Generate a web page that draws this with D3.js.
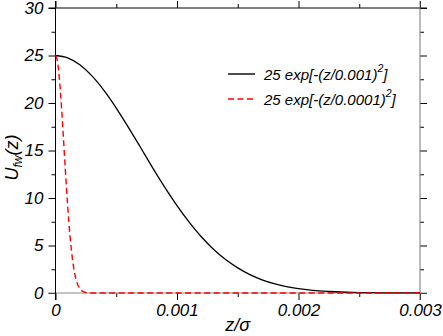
<!DOCTYPE html>
<html>
<head>
<meta charset="utf-8">
<script src="https://cdn.jsdelivr.net/npm/d3@7"></script>
<style>
  body { margin: 0; background: #fff; }
  text { font-family: "Liberation Sans", Arial, sans-serif; font-style: italic; }
</style>
</head>
<body>
<svg width="443" height="336"></svg>
<script>
// values
var xTicks = [0, 0.001, 0.002, 0.003];
var yTicks = [0, 5, 10, 15, 20, 25, 30];
var labels = ["25 exp[-(z/0.001)", "25 exp[-(z/0.0001)"];

var wideZ = [0, 0.0001, 0.0002, 0.0003, 0.0004, 0.0005, 0.0006, 0.0007, 0.0008, 0.0009,
  0.001, 0.0011, 0.0012, 0.0013, 0.0014, 0.0015, 0.0016, 0.0017, 0.0018, 0.0019,
  0.002, 0.0021, 0.0022, 0.0023, 0.0024, 0.0025, 0.0026, 0.0027, 0.0028, 0.0029, 0.003];
var wideU = [25, 24.75, 24.02, 22.85, 21.30, 19.47, 17.44, 15.32, 13.18, 11.12,
  9.20, 7.46, 5.92, 4.61, 3.52, 2.64, 1.93, 1.39, 0.98, 0.68,
  0.46, 0.30, 0.20, 0.13, 0.08, 0.05, 0.03, 0.02, 0.01, 0.005, 0.003];

var narrowZ = [0, 0.00001, 0.00002, 0.00003, 0.00004, 0.00005, 0.00006, 0.00007, 0.00008, 0.00009,
  0.0001, 0.00011, 0.00012, 0.00013, 0.00014, 0.00015, 0.00016, 0.00017, 0.00018, 0.00019,
  0.0002, 0.00021, 0.00022, 0.00023, 0.00024, 0.00025, 0.00026, 0.00027, 0.00028, 0.0003, 0.003];
var narrowU = [25, 24.75, 24.02, 22.85, 21.30, 19.47, 17.44, 15.32, 13.18, 11.12,
  9.20, 7.46, 5.92, 4.61, 3.52, 2.64, 1.93, 1.39, 0.98, 0.68,
  0.46, 0.30, 0.20, 0.13, 0.08, 0.05, 0.03, 0.02, 0.01, 0, 0];

var svg = d3.select("svg"),
    margin = {top: 8, right: 23, bottom: 43, left: 55.5},
    width = +svg.attr("width") - margin.left - margin.right,
    height = +svg.attr("height") - margin.top - margin.bottom;

var x = d3.scaleLinear().domain([0, 0.003]).range([0, width]),
    y = d3.scaleLinear().domain([0, 30]).range([height, 0]);

var g = svg.append("g")
    .attr("transform", "translate(" + margin.left + "," + margin.top + ")");

var xMinor = [0.0005, 0.0015, 0.0025],
    yMinor = [2.5, 7.5, 12.5, 17.5, 22.5, 27.5];
var fmtX = function(d) { return d === 0 ? "0" : d3.format(".3f")(d); };

function styleAxis(sel) {
  sel.select(".domain").remove();
  sel.selectAll("line").attr("stroke", "#000");
  sel.selectAll("text").attr("font-size", 17).attr("fill", "#000")
    .attr("font-family", "'Liberation Sans', Arial, sans-serif").attr("font-style", "italic");
}

// major ticks
g.append("g").attr("transform", "translate(0," + height + ")")
  .call(d3.axisBottom(x).tickValues(xTicks).tickSize(7).tickPadding(4).tickFormat(fmtX)).call(styleAxis);
g.append("g")
  .call(d3.axisTop(x).tickValues(xTicks).tickSize(7).tickFormat("")).call(styleAxis);
g.append("g")
  .call(d3.axisLeft(y).tickValues(yTicks).tickSize(7).tickPadding(5)).call(styleAxis);
g.append("g").attr("transform", "translate(" + width + ",0)")
  .call(d3.axisRight(y).tickValues(yTicks).tickSize(7).tickFormat("")).call(styleAxis);

// minor ticks
g.append("g").attr("transform", "translate(0," + height + ")")
  .call(d3.axisBottom(x).tickValues(xMinor).tickSize(4).tickFormat("")).call(styleAxis);
g.append("g")
  .call(d3.axisTop(x).tickValues(xMinor).tickSize(4).tickFormat("")).call(styleAxis);
g.append("g")
  .call(d3.axisLeft(y).tickValues(yMinor).tickSize(4).tickFormat("")).call(styleAxis);
g.append("g").attr("transform", "translate(" + width + ",0)")
  .call(d3.axisRight(y).tickValues(yMinor).tickSize(4).tickFormat("")).call(styleAxis);

// frame, lines run past the corners
var ext = 7;
var frame = g.append("g").attr("stroke", "#000").attr("stroke-width", 1);
frame.append("line").attr("x1", -ext).attr("x2", width + ext).attr("y1", 0).attr("y2", 0);
frame.append("line").attr("x1", -ext).attr("x2", width + ext).attr("y1", height).attr("y2", height).attr("stroke", "#888");
frame.append("line").attr("x1", 0).attr("x2", 0).attr("y1", -ext).attr("y2", height + ext);
frame.append("line").attr("x1", width).attr("x2", width).attr("y1", -ext).attr("y2", height + ext).attr("stroke", "#777");

var line = d3.line()
    .x(function(d) { return x(d[0]); })
    .y(function(d) { return y(d[1]); })
    .curve(d3.curveMonotoneX);

g.append("path")
    .datum(d3.zip(wideZ, wideU))
    .attr("fill", "none").attr("stroke", "#000").attr("stroke-width", 1.3)
    .attr("d", line);

g.append("path")
    .datum(d3.zip(narrowZ, narrowU))
    .attr("fill", "none").attr("stroke", "#f00").attr("stroke-width", 1.4)
    .attr("stroke-dasharray", "6,3.5")
    .attr("d", line);

// legend
var legend = svg.append("g");
[{c: "#000", dash: null}, {c: "#f00", dash: "6,3.5"}].forEach(function(s, i) {
  var yy = 74 + i * 25;
  legend.append("line").attr("x1", 228).attr("x2", 255).attr("y1", yy).attr("y2", yy)
    .attr("stroke", s.c).attr("stroke-width", 1.4).attr("stroke-dasharray", s.dash);
  var t = legend.append("text").attr("x", 264).attr("y", yy + 5.5).attr("font-size", 15);
  t.append("tspan").text(labels[i]);
  t.append("tspan").attr("font-size", 10.5).attr("dy", -7.5).text("2");
  t.append("tspan").attr("dy", 7.5).text("]");
});

// axis titles
svg.append("text")
    .attr("x", margin.left + width / 2).attr("y", 331)
    .attr("text-anchor", "middle").attr("font-size", 18)
    .text("z/\u03c3");

var yl = svg.append("text")
    .attr("transform", "translate(18," + (margin.top + height / 2 + 7) + ") rotate(-90)")
    .attr("text-anchor", "middle").attr("font-size", 18);
yl.append("tspan").text("U");
yl.append("tspan").attr("font-size", 12).attr("dy", 4).text("fw");
yl.append("tspan").attr("dy", -4).text("(z)");
</script>
</body>
</html>
